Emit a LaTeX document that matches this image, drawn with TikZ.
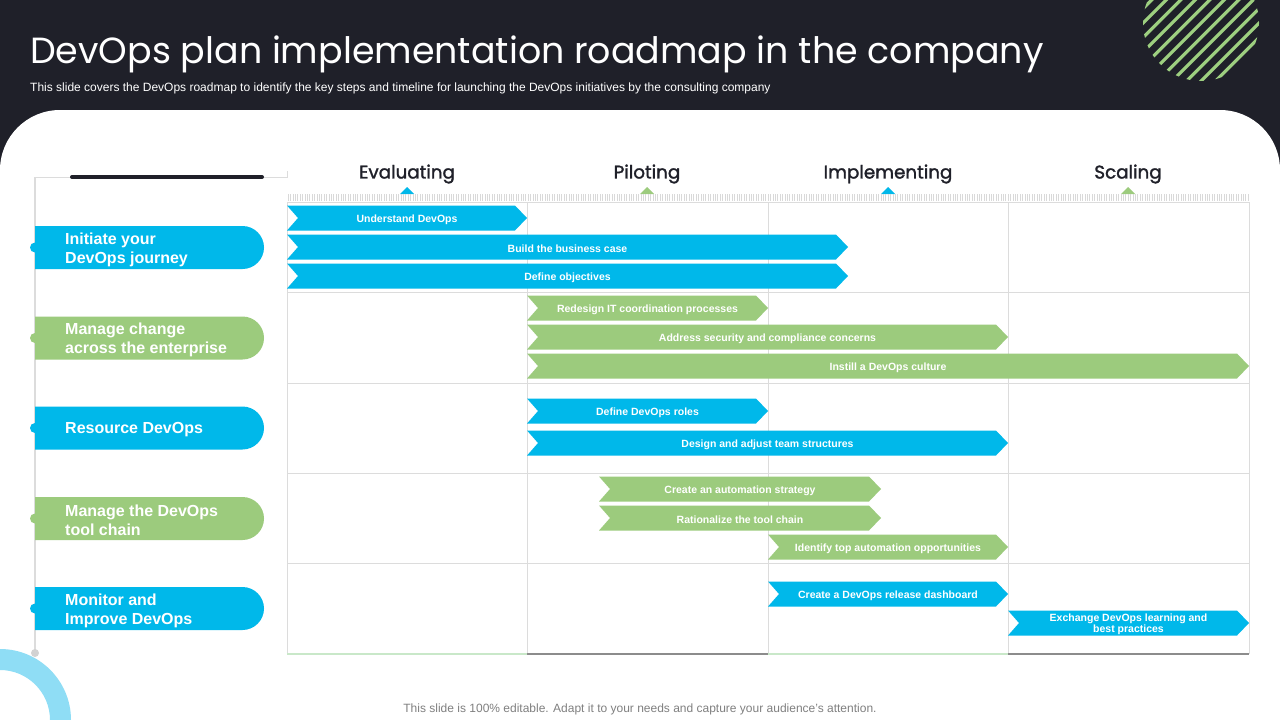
\documentclass[tikz,border=0pt]{standalone}
\usepackage{fontspec}
\setmainfont{Liberation Sans}
\newfontfamily\popfont{Poppins}
\newfontfamily\popbold{Poppins}[FakeBold=1.6]
\definecolor{darkbg}{HTML}{1F2029}
\definecolor{myblue}{HTML}{00B8EA}
\definecolor{mygreen}{HTML}{9CCB7D}
\definecolor{ringblue}{HTML}{8FDDF5}
\definecolor{gridgray}{HTML}{DCDCDC}
\definecolor{stripegreen}{HTML}{9DCF80}
\tikzset{
  arrtxt/.style={text=white, font=\bfseries\fontsize{10.5}{11.5}\selectfont, inner sep=0pt, align=center},
  pilltxt/.style={text=white, font=\bfseries\fontsize{16}{19}\selectfont, inner sep=0pt, align=left, anchor=west},
  headtxt/.style={text=darkbg, font=\popbold\fontsize{18.3}{22}\selectfont, inner sep=0pt},
  gridline/.style={draw=gridgray, line width=1pt}
}
\newcommand\chev[6]{%
  \fill[#5] (#2,#4-12.5) -- (#3-12,#4-12.5) -- (#3,#4) -- (#3-12,#4+12.5) -- (#2,#4+12.5) -- (#2+11,#4) -- cycle;
  \node[arrtxt] (#1) at ({(#2+#3)/2},#4+1.5) {#6};}
\newcommand\pill[5]{%
  \fill[#3] (35,#2-21.5) -- (242.5,#2-21.5) arc(-90:90:21.5) -- (35,#2+21.5) -- cycle;
  \fill[#3] (35,#2) circle (5);
  \node[pilltxt] (#1) at (65,#2+#4) {#5};}
\begin{document}
\begin{tikzpicture}[x=1pt,y=-1pt]
\useasboundingbox (0,0) rectangle (1280,720);
% background
\fill[darkbg] (0,0) rectangle (1280,720);
\fill[white] (0,720) -- (0,170) arc(180:270:60) -- (1220,110) arc(270:360:60) -- (1280,720) -- cycle;
% striped circle
\begin{scope}
  \clip (1201,23) circle (58);
  \foreach \k in {-8,...,8} {
    \draw[stripegreen, line width=3.2pt] ({1201+\k*14.5-90},{23+90}) -- ({1201+\k*14.5+90},{23-90});
  }
\end{scope}
% title
\node[anchor=base west, inner sep=0pt, text=white, font=\popfont\fontsize{36.4}{42}\selectfont] (title) at (30,63) {DevOps plan implementation roadmap in the company};
\node[anchor=base west, inner sep=0pt, text=white, font=\fontsize{12}{13}\selectfont] (subtitle) at (30,91) {This slide covers the DevOps roadmap to identify the key steps and timeline for launching the DevOps initiatives by the consulting company};
% bottom-left ring
\fill[ringblue] (0,649) arc(-90:0:71) -- (50,720) arc(0:-90:50) -- cycle;
% left panel
\draw[gridgray, line width=1pt] (35,177) -- (287,177);
\draw[gridgray, line width=1pt] (287,171) -- (287,178);
\draw[gridgray, line width=1.1pt] (35,177) -- (35,652);
\fill[gray!35] (35,653) circle (4);
\draw[darkbg, line width=4pt, line cap=round] (72,177) -- (262,177);
% header
\node[headtxt] (h1) at (407,174) {Evaluating};
\node[headtxt] (h2) at (647,174) {Piloting};
\node[headtxt] (h3) at (888,174) {Implementing};
\node[headtxt] (h4) at (1128,174) {Scaling};
\fill[myblue] (407,187) -- (414,194) -- (400,194) -- cycle;
\fill[mygreen] (647,187) -- (654,194) -- (640,194) -- cycle;
\fill[myblue] (888,187) -- (895,194) -- (881,194) -- cycle;
\fill[mygreen] (1128,187) -- (1135,194) -- (1121,194) -- cycle;
% hatched strip
\foreach \x in {288,290.4,...,1249} {
  \draw[gray!30, line width=0.6pt] (\x,194) -- (\x,201);
}
% grid
\foreach \y in {202,292,383,473,563} { \draw[gridline] (287,\y) -- (1249,\y); }
\foreach \x in {287,527,768,1008,1249} { \draw[gridline] (\x,202) -- (\x,654); }
\draw[green!40!gray!30, line width=2pt] (287,654) -- (527,654);
\draw[gray!90, line width=2pt] (527,654) -- (768,654);
\draw[green!40!gray!30, line width=2pt] (768,654) -- (1008,654);
\draw[gray!90, line width=2pt] (1008,654) -- (1249,654);
% left pills
\pill{p1}{247.5}{myblue}{2}{Initiate your\\DevOps journey}
\pill{p2}{338}{mygreen}{2}{Manage change\\across the enterprise}
\pill{p3}{428}{myblue}{1.5}{Resource DevOps}
\pill{p4}{518.5}{mygreen}{2}{Manage the DevOps\\tool chain}
\pill{p5}{608.5}{myblue}{2}{Monitor and\\Improve DevOps}
% chevrons
\chev{a1}{287}{527}{218}{myblue}{Understand DevOps}
\chev{a2}{287}{848}{247}{myblue}{Build the business case}
\chev{a3}{287}{848}{276}{myblue}{Define objectives}
\chev{a4}{527}{768}{308}{mygreen}{Redesign IT coordination processes}
\chev{a5}{527}{1008}{337}{mygreen}{Address security and compliance concerns}
\chev{a6}{527}{1249}{366}{mygreen}{Instill a DevOps culture}
\chev{a7}{527}{768}{411}{myblue}{Define DevOps roles}
\chev{a8}{527}{1008}{443}{myblue}{Design and adjust team structures}
\chev{a9}{599}{881}{489}{mygreen}{Create an automation strategy}
\chev{a10}{599}{881}{518}{mygreen}{Rationalize the tool chain}
\chev{a11}{768}{1008}{547}{mygreen}{Identify top automation opportunities}
\chev{a12}{768}{1008}{594}{myblue}{Create a DevOps release dashboard}
\chev{a13}{1008}{1249}{623}{myblue}{Exchange DevOps learning and\\best practices}
% footer
\node[anchor=base, inner sep=0pt, text=gray, font=\fontsize{12}{13}\selectfont] (footer) at (640,712) {This slide is 100\% editable. Adapt it to your needs and capture your audience's attention.};
\end{tikzpicture}
\end{document}
